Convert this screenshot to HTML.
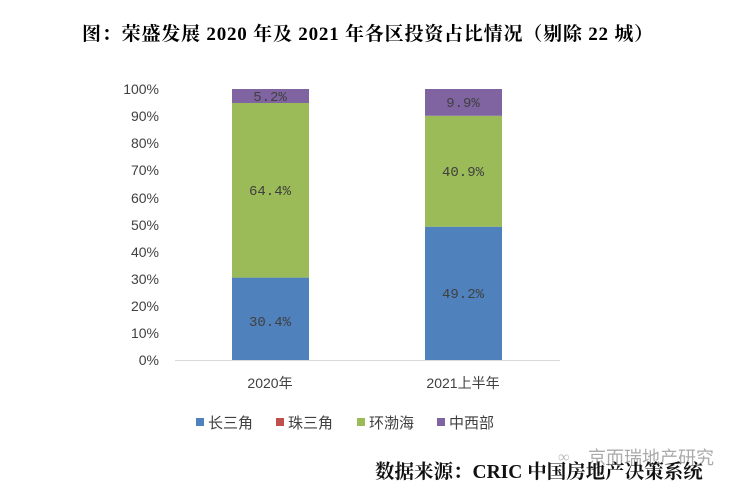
<!DOCTYPE html>
<html><head><meta charset="utf-8"><style>
body{margin:0;background:#fff;width:736px;height:490px;overflow:hidden;position:relative;font-family:"Liberation Serif","Noto Serif CJK SC",serif}
.t{position:absolute;white-space:nowrap}
</style></head><body>
<div class="t" style="left:0;width:736px;top:19px;text-align:center;font-size:19px;font-weight:bold;letter-spacing:0.8px">图：荣盛发展 2020 年及 2021 年各区投资占比情况（剔除 22 城）</div>
<svg width="736" height="490" style="position:absolute;left:0;top:0" font-family="Liberation Serif,Noto Serif CJK SC,serif">
<g font-size="14" fill="#404040" text-anchor="end" font-family="Liberation Sans,Noto Sans CJK SC,sans-serif">
<text x="159" y="365">0%</text><text x="159" y="338">10%</text><text x="159" y="311">20%</text><text x="159" y="284">30%</text><text x="159" y="257">40%</text><text x="159" y="230">50%</text><text x="159" y="203">60%</text><text x="159" y="175">70%</text><text x="159" y="148">80%</text><text x="159" y="121">90%</text><text x="159" y="94">100%</text>
</g>
<line x1="175" y1="360.5" x2="560" y2="360.5" stroke="#d9d9d9"/>
<rect x="232" y="277.6" width="77" height="82.4" fill="#4f81bd"/>
<rect x="232" y="103" width="77" height="174.6" fill="#9bbb59"/>
<rect x="232" y="89" width="77" height="14" fill="#8064a2"/>
<rect x="425" y="226.7" width="77" height="133.3" fill="#4f81bd"/>
<rect x="425" y="115.8" width="77" height="110.9" fill="#9bbb59"/>
<rect x="425" y="89" width="77" height="26.8" fill="#8064a2"/>
<g font-family="Liberation Mono,monospace" font-size="14" fill="#404040" text-anchor="middle">
<text x="270" y="326">30.4%</text><text x="270" y="195">64.4%</text><text x="270" y="101">5.2%</text>
<text x="463" y="298">49.2%</text><text x="463" y="176">40.9%</text><text x="463" y="107">9.9%</text>
</g>
<g font-size="14" fill="#404040" text-anchor="middle" font-family="Liberation Sans,Noto Sans CJK SC,sans-serif">
<text x="270" y="388">2020年</text><text x="463" y="388">2021上半年</text>
</g>
<g font-size="15" fill="#404040" font-family="Liberation Sans,Noto Sans CJK SC,sans-serif">
<rect x="196" y="418" width="8" height="8" fill="#4f81bd"/><text x="208" y="428">长三角</text>
<rect x="276" y="418" width="8" height="8" fill="#c0504d"/><text x="288" y="428">珠三角</text>
<rect x="357" y="418" width="8" height="8" fill="#9bbb59"/><text x="369" y="428">环渤海</text>
<rect x="437" y="418" width="8" height="8" fill="#8064a2"/><text x="449" y="428">中西部</text>
</g>
<text x="588" y="464" font-size="18" fill="#aaa" font-family="Liberation Sans,Noto Sans CJK SC,sans-serif">京而瑞地产研究</text>
<text x="558" y="462" font-size="16" fill="#bbb">∞</text>
<text x="375" y="478" font-size="19.5" font-weight="bold" fill="#111">数据来源：CRIC 中国房地产决策系统</text>
</svg>
</body></html>
